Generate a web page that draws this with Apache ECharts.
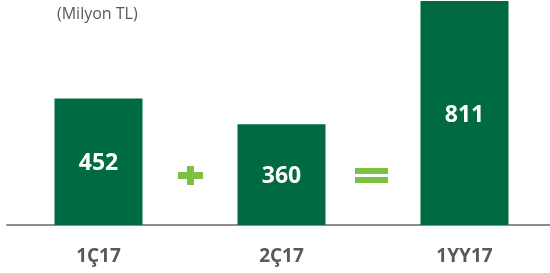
<!DOCTYPE html>
<html>
<head>
<meta charset="utf-8">
<script src="https://cdn.jsdelivr.net/npm/echarts@6/dist/echarts.min.js"></script>
<style>
  html, body { margin: 0; padding: 0; background: #fff; }
  #main { width: 550px; height: 273px; }
</style>
</head>
<body>
<div id="main"></div>
<script>
var categories = ['1Ç17', '2Ç17', '1YY17'];
var values = [452, 360, 811];
var unitText = '(Milyon TL)';

var barColor = '#006a43';
var signColor = '#7cc142';

var chart = echarts.init(document.getElementById('main'));

var option = {
  animation: false,
  title: {
    text: unitText,
    left: 57,
    top: 6,
    padding: 0,
    textStyle: {
      color: '#595959',
      fontFamily: 'Open Sans',
      fontWeight: 'normal',
      fontSize: 16
    }
  },
  grid: {
    left: 7,
    right: -6,
    top: 1,
    bottom: 48,
    outerBoundsMode: 'none'
  },
  xAxis: {
    type: 'category',
    data: categories,
    axisLine: {
      lineStyle: {
        color: '#8c8c8c',
        width: 2
      }
    },
    axisTick: { show: false },
    axisLabel: {
      margin: 22,
      color: '#595959',
      fontFamily: 'Open Sans',
      fontWeight: 'bold',
      fontSize: 19
    }
  },
  yAxis: {
    type: 'value',
    min: 0,
    max: 800,
    show: false,
    splitLine: { show: false }
  },
  series: [{
    type: 'bar',
    data: values,
    barWidth: 88,
    clip: true,
    itemStyle: { color: barColor },
    label: {
      show: true,
      position: 'inside',
      offset: [0, 2],
      color: '#ffffff',
      fontFamily: 'Open Sans',
      fontWeight: 'bold',
      fontSize: 23
    }
  }],
  // + ve = isaretleri
  graphic: [
    { type: 'rect', shape: { x: 178, y: 172, width: 25, height: 7 }, style: { fill: signColor } },
    { type: 'rect', shape: { x: 187, y: 166, width: 7, height: 19 }, style: { fill: signColor } },
    { type: 'rect', shape: { x: 355, y: 168, width: 33, height: 6 }, style: { fill: signColor } },
    { type: 'rect', shape: { x: 355, y: 177, width: 33, height: 6 }, style: { fill: signColor } }
  ]
};

chart.setOption(option);
</script>
</body>
</html>
